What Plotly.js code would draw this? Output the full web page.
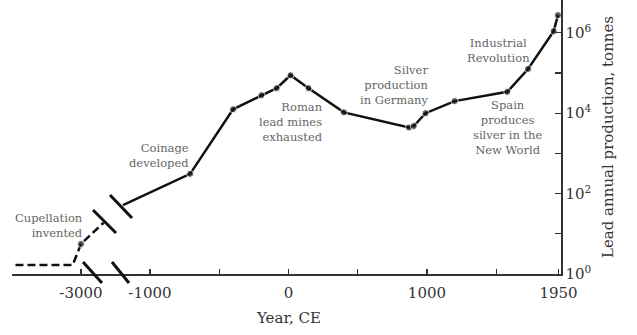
<!DOCTYPE html>
<html>
<head>
<meta charset="utf-8">
<script src="https://cdn.plot.ly/plotly-3.0.1.min.js"></script>
<style>html,body{margin:0;padding:0;background:#fff;}#chart{width:637px;height:335px;}</style>
</head>
<body>
<div id="chart"></div>
<script>
// Early period (before the axis break), years CE and tonnes per year
var earlyYears = [-3950, -3120, -3000, -2670];
var earlyLead  = [1.67, 1.67, 5.6, 19];

// Main period (after the axis break)
var mainYears = [-1195, -710, -400, -195, -85, 15, 145, 400, 870, 905, 990, 1200, 1580, 1730, 1915, 1946];
var mainLead  = [52, 310, 12500, 28000, 42000, 88000, 42000, 10500, 4400, 4800, 10000, 20000, 34000, 126000, 1100000, 2750000];

// Tick labels
var earlyTickVals = [-3000];
var earlyTickText = ['-3000'];
var mainTickVals = [-1000, 0, 1000, 1950];
var mainTickText = ['-1000', '0', '1000', '1950'];
var mainMinorTicks = [-500, 500, 1500];
var yTickVals = [1, 100, 10000, 1000000];
var yTickText = ['10<sup>0</sup>', '10<sup>2</sup>', '10<sup>4</sup>', '10<sup>6</sup>'];
var yMinorTicks = [10, 1000, 100000];

// Event labels
var eventTexts = ['Cupellation<br>invented', 'Coinage<br>developed', 'Roman<br>lead mines<br>exhausted',
                  'Silver<br>production<br>in Germany', 'Industrial<br>Revolution',
                  'Spain<br>produces<br>silver in the<br>New World'];

// ---- layout helpers (pixel -> paper) ----
var L = 12, R = 561, T = 0, B = 274;
function px(x) { return (x - L) / (R - L); }
function py(y) { return (B - y) / (B - T); }

var annFont = {family: 'DejaVu Serif', size: 11.5, color: '#666'};
var annPos = [
  {x: 85, y: 225, xa: 'right', al: 'right'},
  {x: 191, y: 155.5, xa: 'right', al: 'right'},
  {x: 325, y: 122, xa: 'right', al: 'right'},
  {x: 430, y: 85, xa: 'right', al: 'right'},
  {x: 498, y: 50, xa: 'center', al: 'center'},
  {x: 507, y: 127.5, xa: 'center', al: 'center'}
];
var annotations = eventTexts.map(function (t, i) {
  var p = annPos[i];
  return {text: t, xref: 'paper', yref: 'paper', x: px(p.x), y: py(p.y),
          xanchor: p.xa, yanchor: 'middle', align: p.al, showarrow: false, font: annFont};
});
annotations.push({text: 'Year, CE', xref: 'paper', yref: 'paper', x: px(288), y: py(318),
  xanchor: 'center', yanchor: 'middle', showarrow: false,
  font: {family: 'DejaVu Serif', size: 15, color: '#333'}});

function slash(x0, y0, x1, y1) {
  return {type: 'line', xref: 'paper', yref: 'paper', x0: px(x0), y0: py(y0), x1: px(x1), y1: py(y1),
          line: {color: '#111', width: 3}};
}
var shapes = [
  slash(83, 262, 102, 283),
  slash(112, 262, 129, 283),
  slash(93, 210, 116, 233),
  slash(110, 195, 132, 218)
];

var traces = [
  {x: earlyYears, y: earlyLead, xaxis: 'x', yaxis: 'y', mode: 'lines+markers',
   line: {color: '#111', width: 2.5, dash: '8px,4px'},
   marker: {color: '#111', size: [0, 0, 7, 0]}, cliponaxis: false, hoverinfo: 'skip'},
  {x: mainYears, y: mainLead, xaxis: 'x2', yaxis: 'y', mode: 'lines+markers',
   line: {color: '#111', width: 2.5},
   marker: {color: '#111', size: mainYears.map(function (v, i) { return i === 0 ? 0 : 7; })},
   cliponaxis: false, hoverinfo: 'skip'}
];

var tickFont = {family: 'DejaVu Serif', size: 15, color: '#333'};
var axisCommon = {showline: true, linecolor: '#333', linewidth: 1.5, ticks: 'inside', ticklen: 5,
                  tickcolor: '#333', tickwidth: 1.2, showgrid: false, zeroline: false,
                  tickfont: tickFont, tickmode: 'array', anchor: 'y', ticklabelstandoff: 4};

var layout = {
  width: 637, height: 335,
  margin: {l: L, r: 637 - R, t: T, b: 335 - B, pad: 0},
  paper_bgcolor: '#fff', plot_bgcolor: '#fff',
  showlegend: false,
  xaxis: Object.assign({}, axisCommon, {domain: [0, px(113)], range: [-4000, -2536],
          tickvals: earlyTickVals, ticktext: earlyTickText}),
  xaxis2: Object.assign({}, axisCommon, {domain: [px(113), 1], range: [-1267, 1968],
          tickvals: mainTickVals, ticktext: mainTickText,
          minor: {tickmode: 'array', tickvals: mainMinorTicks, ticks: 'inside', ticklen: 5, tickcolor: '#333', tickwidth: 1.2, showgrid: false}}),
  yaxis: {type: 'log', range: [0, 6.816], side: 'right', anchor: 'x2',
          showline: true, linecolor: '#333', linewidth: 1.5, ticks: 'inside', ticklen: 6,
          tickcolor: '#333', tickwidth: 1.2, showgrid: false, zeroline: false,
          tickmode: 'array', tickvals: yTickVals, ticktext: yTickText, tickfont: tickFont,
          minor: {tickmode: 'array', tickvals: yMinorTicks, ticks: 'inside', ticklen: 6, tickcolor: '#333', tickwidth: 1.2, showgrid: false},
          title: {text: 'Lead annual production, tonnes', font: {family: 'DejaVu Serif', size: 15, color: '#333'}, standoff: 12}},
  annotations: annotations,
  shapes: shapes
};

Plotly.newPlot('chart', traces, layout, {staticPlot: true, displayModeBar: false});
</script>
</body>
</html>
